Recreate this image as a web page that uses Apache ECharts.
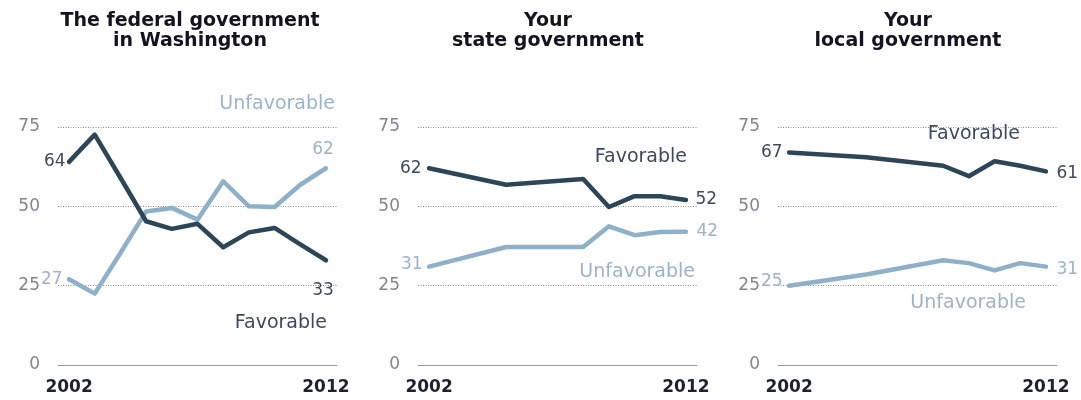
<!DOCTYPE html>
<html>
<head>
<meta charset="utf-8">
<script src="https://cdn.jsdelivr.net/npm/echarts@6/dist/echarts.min.js"></script>
<style>
html,body{margin:0;padding:0;background:#fff;}
#chart{width:1081px;height:400px;}
</style>
</head>
<body>
<div id="chart"></div>
<script>
// ---- Data ----
const panelTitles = ['The federal government\nin Washington', 'Your\nstate government', 'Your\nlocal government'];
const yTicks = [0, 25, 50, 75];
const xTickYears = [2002, 2012];

const fedYears = [2002, 2003, 2004, 2005, 2006, 2007, 2008, 2009, 2010, 2011, 2012];
const fedFavorable = [64, 72.6, 59, 45.3, 42.9, 44.5, 37.1, 41.8, 43.2, 38, 33];
const fedUnfavorable = [27, 22.5, 35.3, 48.4, 49.5, 45.8, 57.9, 50, 49.8, 56.8, 62];

const stateYears = [2002, 2005, 2008, 2009, 2010, 2011, 2012];
const stateFavorable = [62, 56.8, 58.6, 49.8, 53.2, 53.2, 52];
const stateUnfavorable = [31, 37.2, 37.2, 43.7, 40.9, 41.9, 42];

const localYears = [2002, 2005, 2008, 2009, 2010, 2011, 2012];
const localFavorable = [67, 65.5, 62.8, 59.5, 64.2, 62.8, 61];
const localUnfavorable = [25, 28.5, 33.0, 32.1, 29.8, 32.1, 31];

// ---- Styling ----
const DARK = '#2d4657';
const LIGHT = '#8eb0c8';
const DARK_TXT = '#3c4a5e';
const LIGHT_TXT = '#9bb4cb';
const AXIS_TXT = '#8a8292';
const FONT = '"DejaVu Sans", Verdana, sans-serif';

const panelOffsets = [0, 360, 720];
const gridLeft = 58, gridWidth = 279;

function labelCfg(color, position, distance, offset) {
  return {
    show: true, position: position, distance: distance, offset: offset || [0, 0],
    color: color, fontFamily: FONT, fontSize: 17,
    formatter: p => Math.round(p.value[1])
  };
}
function buildData(years, vals, color, firstLbl, lastLbl) {
  return years.map((y, i) => {
    const item = { value: [y, vals[i]] };
    if (i === 0) item.label = labelCfg(color, firstLbl[0], firstLbl[1], firstLbl[2]);
    else if (i === years.length - 1) item.label = labelCfg(color, lastLbl[0], lastLbl[1], lastLbl[2]);
    return item;
  });
}

const panels = [
  { years: fedYears, fav: fedFavorable, unf: fedUnfavorable,
    favFirst: ['left', 3], favLast: ['bottom', 21, [-3, 0]],
    unfFirst: ['left', 6], unfLast: ['top', 10, [-3, 0]] },
  { years: stateYears, fav: stateFavorable, unf: stateUnfavorable,
    favFirst: ['left', 7], favLast: ['right', 9],
    unfFirst: ['left', 6, [0, -2]], unfLast: ['right', 10] },
  { years: localYears, fav: localFavorable, unf: localUnfavorable,
    favFirst: ['left', 6], favLast: ['right', 10, [0, 2]],
    unfFirst: ['left', 6, [0, -4]], unfLast: ['right', 10, [0, 3]] }
];

const grids = [], xAxes = [], yAxes = [], series = [];
panels.forEach((p, k) => {
  grids.push({ left: gridLeft + panelOffsets[k], width: gridWidth, top: 127, bottom: 35 });
  xAxes.push({
    type: 'value', gridIndex: k, min: 2001.57, max: 2012.43,
    axisLine: { show: true, lineStyle: { color: '#9a9a9a', width: 1 } },
    axisTick: { show: false },
    splitLine: { show: false },
    axisLabel: {
      customValues: xTickYears, margin: 14,
      color: '#1e2230', fontFamily: FONT, fontSize: 17, fontWeight: 'bold',
      formatter: v => String(v)
    }
  });
  yAxes.push({
    type: 'value', gridIndex: k, min: 0, max: 75, interval: 25,
    axisLine: { show: false }, axisTick: { show: false },
    splitLine: { show: true, lineStyle: { color: '#8c8c8c', width: 1, type: [1, 1.5] } },
    axisLabel: { margin: 18, color: AXIS_TXT, fontFamily: FONT, fontSize: 17,
      customValues: yTicks }
  });
  series.push({
    type: 'line', xAxisIndex: k, yAxisIndex: k, name: 'Unfavorable',
    data: buildData(p.years, p.unf, LIGHT_TXT, p.unfFirst, p.unfLast),
    symbol: 'circle', symbolSize: 1, showAllSymbol: true,
    itemStyle: { color: LIGHT },
    lineStyle: { color: LIGHT, width: 4.5, cap: 'round', join: 'round' },
    silent: true, z: 2
  });
  series.push({
    type: 'line', xAxisIndex: k, yAxisIndex: k, name: 'Favorable',
    data: buildData(p.years, p.fav, DARK_TXT, p.favFirst, p.favLast),
    symbol: 'circle', symbolSize: 1, showAllSymbol: true,
    itemStyle: { color: DARK },
    lineStyle: { color: DARK, width: 4.5, cap: 'round', join: 'round' },
    silent: true, z: 3
  });
});

const titleCenters = [190, 548, 908];
const graphics = panelTitles.map((t, k) => ({
  type: 'text', x: titleCenters[k], y: 11,
  style: { text: t, align: 'center', verticalAlign: 'top',
    fontFamily: FONT, fontSize: 19, fontWeight: 'bold', lineHeight: 20, fill: '#141420' }
}));
// series name annotations (text placement)
const annot = [
  ['Unfavorable', 335, 104, LIGHT_TXT], ['Favorable', 327, 323, DARK_TXT],
  ['Favorable', 687, 157, DARK_TXT], ['Unfavorable', 695, 272, LIGHT_TXT],
  ['Favorable', 1020, 134, DARK_TXT], ['Unfavorable', 1026, 303, LIGHT_TXT]
];
annot.forEach(a => graphics.push({
  type: 'text', x: a[1], y: a[2], z: 10,
  style: { text: a[0], align: 'right', verticalAlign: 'middle',
    fontFamily: FONT, fontSize: 19, fill: a[3] }
}));

const chart = echarts.init(document.getElementById('chart'), null, { renderer: 'canvas' });
chart.setOption({
  animation: false,
  backgroundColor: '#ffffff',
  grid: grids, xAxis: xAxes, yAxis: yAxes, series: series,
  graphic: graphics
});
</script>
</body>
</html>
